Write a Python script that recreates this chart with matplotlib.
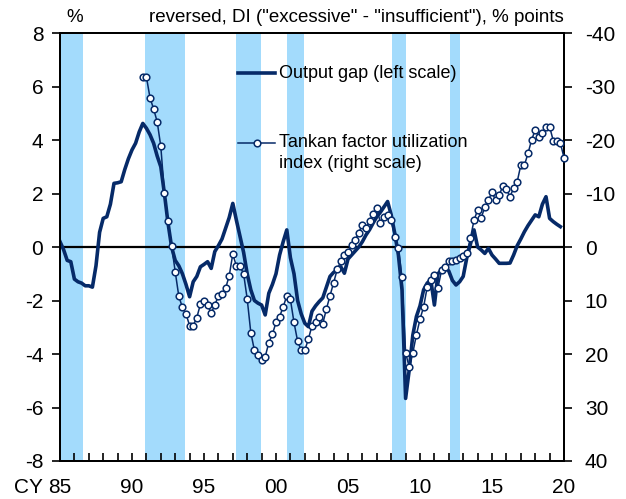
import matplotlib.pyplot as plt
import numpy as np

plt.rcParams['font.family'] = ['Liberation Sans', 'DejaVu Sans']
plt.rcParams['axes.unicode_minus'] = False

# output gap, quarterly from 1985Q1 (%)
gap_start = 1985.0
output_gap = [
    0.2, -0.1, -0.5, -0.55,       # 1985
    -1.2, -1.3, -1.35, -1.45,     # 1986
    -1.45, -1.5, -0.7, 0.55,      # 1987
    1.07, 1.13, 1.6, 2.38,        # 1988
    2.4, 2.44, 2.9, 3.3,          # 1989
    3.63, 3.88, 4.3, 4.62,        # 1990
    4.44, 4.2, 3.88, 3.4,         # 1991
    3.0, 2.0, 0.9, 0.0,           # 1992
    -0.5, -0.7, -1.0, -1.4,       # 1993
    -1.86, -1.3, -1.1, -0.74,     # 1994
    -0.65, -0.55, -0.8, -0.17,    # 1995
    0.05, 0.3, 0.7, 1.1,          # 1996
    1.63, 1.0, 0.4, -0.2,         # 1997
    -1.0, -1.6, -2.0, -2.1,       # 1998
    -2.17, -2.54, -1.73, -1.4,    # 1999
    -1.0, -0.3, 0.2, 0.64,        # 2000
    -0.4, -1.0, -2.0, -2.5,       # 2001
    -2.85, -2.98, -2.4, -2.2,     # 2002
    -2.04, -1.9, -1.5, -1.1,      # 2003
    -0.95, -0.86, -0.74, -0.98,   # 2004
    -0.45, -0.3, -0.15, 0.0,      # 2005
    0.2, 0.45, 0.65, 0.9,         # 2006
    1.13, 1.3, 1.5, 1.7,          # 2007
    1.2, 0.5, -0.3, -1.6,         # 2008
    -5.66, -4.6, -3.3, -2.6,      # 2009
    -2.2, -1.6, -1.35, -1.23,     # 2010
    -2.17, -1.0, -0.85, -0.74,    # 2011
    -0.9, -1.25, -1.42, -1.3,     # 2012
    -1.1, -0.4, 0.1, 0.64,        # 2013
    0.0, -0.11, -0.24, -0.05,     # 2014
    -0.3, -0.45, -0.61, -0.61,    # 2015
    -0.61, -0.6, -0.3, 0.05,      # 2016
    0.3, 0.57, 0.8, 1.0,          # 2017
    1.2, 1.13, 1.6, 1.88,         # 2018
    1.07, 0.95, 0.85, 0.76,       # 2019
]

# Tankan factor utilization index, quarterly from 1990Q4 (% points, right scale reversed)
tankan_start = 1990.75
tankan = [
    -31.8,                              # 1990Q4
    -31.8, -27.9, -25.8, -23.4,         # 1991
    -18.8, -10.1, -4.8, -0.2,           # 1992
    4.6, 9.2, 11.3, 12.5,               # 1993
    14.7, 14.7, 13.2, 10.7,             # 1994
    10.0, 10.8, 12.4, 10.8,             # 1995
    9.2, 8.7, 7.7, 5.4,                 # 1996
    1.3, 3.6, 3.6, 5.0,                 # 1997
    9.7, 16.0, 19.3, 20.1,              # 1998
    21.1, 20.5, 17.9, 16.3,             # 1999
    14.1, 13.0, 11.2, 9.1,              # 2000
    9.8, 14.1, 17.6, 19.3,              # 2001
    19.3, 17.2, 14.7, 14.1,             # 2002
    13.0, 14.3, 11.6, 9.1,              # 2003
    6.7, 4.2, 2.7, 1.5,                 # 2004
    0.9, -0.4, -1.3, -2.7,              # 2005
    -4.2, -3.5, -4.9, -6.1,             # 2006
    -7.3, -4.5, -5.7, -6.0,             # 2007
    -5.0, -1.9, 0.2, 5.7,               # 2008
    19.8, 22.4, 19.8, 16.4,             # 2009
    13.5, 11.2, 7.5, 6.2,               # 2010
    5.2, 7.6, 4.3, 3.7,                 # 2011
    2.6, 2.6, 2.4, 2.0,                 # 2012
    1.7, 1.1, -1.6, -5.0,               # 2013
    -6.9, -5.4, -7.5, -8.7,             # 2014
    -10.3, -8.7, -9.7, -11.4,           # 2015
    -10.8, -9.4, -11.0, -12.2,          # 2016
    -15.3, -15.3, -17.5, -20.0,         # 2017
    -21.9, -20.6, -21.4, -22.5,         # 2018
    -22.5, -19.9, -19.9, -19.4,         # 2019
    -16.7,                              # 2020Q1
]

# shaded recession phases
recessions = [(1985.0, 1986.63), (1990.93, 1993.69), (1997.22, 1998.99),
              (2000.74, 2001.97), (2008.03, 2009.06), (2012.07, 2012.79)]

xtick_years = list(range(1985, 2021, 5))
xtick_labels = ['85', '90', '95', '00', '05', '10', '15', '20']

navy = '#062a68'
band = '#a3dbfc'

gap_x = gap_start + np.arange(len(output_gap)) / 4
tk_x = tankan_start + np.arange(len(tankan)) / 4

fig = plt.figure(figsize=(6.26, 4.99), dpi=100)
ax = fig.add_axes([60 / 626, 38 / 499, 504 / 626, 428 / 499])
ax2 = ax.twinx()

for a, b in recessions:
    ax.axvspan(a, b, color=band, lw=0, zorder=0)
ax.axhline(0, color='black', lw=1.6, zorder=1)
ax.plot(gap_x, output_gap, color=navy, lw=2.6, zorder=3)
ax2.plot(tk_x, tankan, color=navy, lw=1.1, marker='o', ms=4.8,
         mfc='white', mec=navy, mew=1.1, clip_on=False, zorder=4)

ax.set_xticks(xtick_years)
ax.set_xticklabels(xtick_labels)
ax.set_xticks(range(1985, 2021), minor=True)
ax.set_yticks(range(-8, 9, 2))
ax2.set_yticks(range(-40, 41, 10))

ax.tick_params(axis='x', which='both', direction='in', length=6, width=1.2,
               labelsize=15, pad=12, colors='black')
ax.tick_params(axis='y', direction='out', length=6, width=1.2, labelsize=15,
               pad=6, right=False)
ax2.tick_params(axis='y', direction='out', length=6, width=1.2, labelsize=15,
                pad=9)
for a in (ax, ax2):
    for s in a.spines.values():
        s.set_linewidth(1.4)
        s.set_color('black')

ax.annotate('CY', xy=(1985, 0), xycoords=('data', 'axes fraction'),
            xytext=(-12.5, -12), textcoords='offset points',
            ha='right', va='top', fontsize=15)

# legend
ax.plot([0.353, 0.427], [0.9065, 0.9065], transform=ax.transAxes,
        color=navy, lw=2.6)
ax.text(0.4345, 0.9065, 'Output gap (left scale)', transform=ax.transAxes,
        va='center', fontsize=13)
ax2.plot([0.353, 0.427], [0.743, 0.743], transform=ax2.transAxes,
         color=navy, lw=1.1)
ax2.plot([0.39], [0.743], transform=ax2.transAxes, marker='o', ms=4.8,
         mfc='white', mec=navy, mew=1.1)
ax2.text(0.4345, 0.743, 'Tankan factor utilization', transform=ax2.transAxes,
         va='center', fontsize=13)
ax2.text(0.4345, 0.696, 'index (right scale)', transform=ax2.transAxes,
         va='center', fontsize=13)

ax.set_xlim(1985, 2020)
ax.set_ylim(-8, 8)
ax2.set_ylim(40, -40)

fig.text(75 / 626, 1 - 18 / 499, '%', ha='center', va='center', fontsize=13.5)
fig.text(564 / 626, 1 - 18 / 499,
         'reversed, DI ("excessive" - "insufficient"), % points',
         ha='right', va='center', fontsize=13.5)

fig.savefig('out.png', dpi=100)
